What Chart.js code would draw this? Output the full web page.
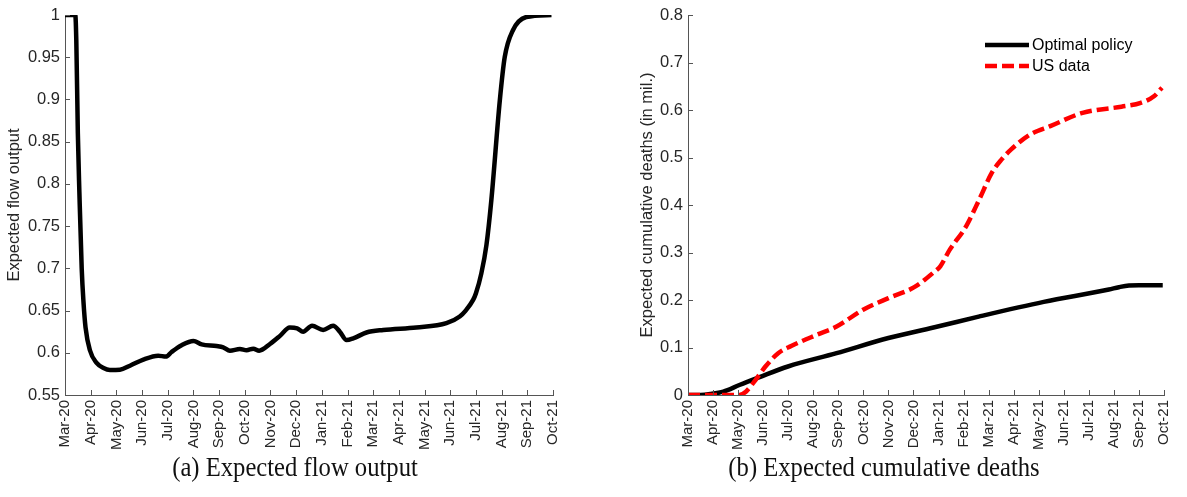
<!DOCTYPE html>
<html lang="en">
<head>
<meta charset="UTF-8">
<title>Expected flow output and cumulative deaths</title>
<script src="https://cdn.jsdelivr.net/npm/chart.js"></script>
<style>
  body { margin: 0; background: #fff; width: 1187px; height: 497px; position: relative; overflow: hidden; }
  #painelA { position: absolute; left: 0; top: 0; }
  #painelB { position: absolute; left: 620px; top: 0; }
  .legenda { position: absolute; top: 451px; width: 400px; font-family: "Liberation Serif", serif; font-size: 28px;
             color: #111; text-align: center; white-space: nowrap; transform: scaleX(0.88); }
</style>
</head>
<body>
  <canvas id="painelA" width="580" height="460"></canvas>
  <canvas id="painelB" width="567" height="460"></canvas>
  <div class="legenda" style="left: 95px;">(a) Expected flow output</div>
  <div class="legenda" style="left: 684px;">(b) Expected cumulative deaths</div>

<script>
// month labels, index 0 = Mar-20
const meses = ['Mar-20', 'Apr-20', 'May-20', 'Jun-20', 'Jul-20', 'Aug-20', 'Sep-20', 'Oct-20', 'Nov-20', 'Dec-20',
               'Jan-21', 'Feb-21', 'Mar-21', 'Apr-21', 'May-21', 'Jun-21', 'Jul-21', 'Aug-21', 'Sep-21', 'Oct-21'];

// (a) expected flow output, x in months since Mar-20
const fluxoMes   = [0, 0.4, 0.44, 0.5, 0.56, 0.65, 0.72, 0.8, 0.97, 1.23, 1.5, 1.75, 2.14, 2.53, 3.05, 3.63, 3.93, 4.15, 4.54, 5.0,
                    5.32, 5.9, 6.16, 6.42, 6.81, 7.07, 7.33, 7.56, 7.98, 8.37, 8.75, 9.04, 9.27, 9.62, 10.05, 10.44, 10.7, 10.96, 11.22, 11.74,
                    12.39, 13.68, 14.85, 15.37, 15.6, 15.89, 16.0, 16.21, 16.41, 16.6, 16.93, 17.12, 17.44, 17.96, 18.94];
const fluxoValor = [1, 1, 0.97, 0.86, 0.79, 0.70, 0.66, 0.63, 0.603, 0.588, 0.582, 0.5797, 0.580, 0.5847, 0.592, 0.5966, 0.5955, 0.601, 0.609, 0.614,
                    0.610, 0.608, 0.6065, 0.6025, 0.6045, 0.603, 0.6049, 0.6025, 0.6104, 0.620, 0.630, 0.629, 0.625, 0.632, 0.627, 0.632, 0.625, 0.615, 0.617, 0.624,
                    0.627, 0.630, 0.635, 0.643, 0.65, 0.6626, 0.6705, 0.694, 0.728, 0.781, 0.899, 0.95, 0.982, 0.9976, 1.0];

// (b) expected cumulative deaths, in millions
const otimoMes    = [0, 0.5, 0.9, 1.41, 2.05, 2.83, 3.99, 5.93, 8.0, 9.8, 11.6, 14.2, 16.8, 17.2, 17.6, 18.0, 18.95];
const otimoMortes = [0, 0, 0.002, 0.007, 0.021, 0.037, 0.06, 0.088, 0.12, 0.142, 0.165, 0.196, 0.222, 0.227, 0.2305, 0.231, 0.231];

const usMes    = [0, 2.05, 2.31, 2.7, 3.09, 3.6, 4.12, 5.15, 5.93, 6.97, 8.0, 9.03, 9.8, 10.07, 10.45, 11.1, 11.62, 12.13,
                  12.52, 12.9, 13.68, 14.46, 15.75, 17.3, 18.07, 18.6, 18.92];
const usMortes = [0, 0, 0.007, 0.032, 0.06, 0.088, 0.103, 0.127, 0.144, 0.179, 0.204, 0.227, 0.258, 0.271, 0.306, 0.355, 0.411, 0.468,
                  0.496, 0.517, 0.549, 0.566, 0.594, 0.607, 0.615, 0.629, 0.647];

const corTexto = '#262626';
const corEixo = '#555555';
Chart.defaults.font.family = '"Liberation Sans", Arial, sans-serif';
Chart.defaults.font.size = 15;
Chart.defaults.color = corTexto;

function pontos(xs, ys) {
    return xs.map((x, i) => ({ x: x, y: ys[i] }));
}

function numero(v) {
    return String(+v.toFixed(2));
}

// ticks pointing into the plot, like the matlab axes
const ticksInternos = {
    id: 'ticksInternos',
    afterDraw(chart) {
        const ctx = chart.ctx;
        const x = chart.scales.x, y = chart.scales.y;
        ctx.save();
        ctx.strokeStyle = corEixo;
        ctx.lineWidth = 1;
        ctx.beginPath();
        x.ticks.forEach(t => {
            const px = Math.round(x.getPixelForValue(t.value)) + 0.5;
            ctx.moveTo(px, y.bottom);
            ctx.lineTo(px, y.bottom - 5);
        });
        y.ticks.forEach(t => {
            const py = Math.round(y.getPixelForValue(t.value)) + 0.5;
            ctx.moveTo(x.left, py);
            ctx.lineTo(x.left + 5, py);
        });
        ctx.stroke();
        ctx.restore();
    }
};

// legend box in the top right corner of panel (b)
const legendaCanto = {
    id: 'legendaCanto',
    afterDraw(chart) {
        const ctx = chart.ctx;
        const area = chart.chartArea;
        const x0 = area.right - 179;
        const itens = chart.data.datasets;
        ctx.save();
        ctx.font = '16px "Liberation Sans", Arial, sans-serif';
        ctx.textBaseline = 'middle';
        itens.forEach((ds, i) => {
            const yy = 45 + i * 21;
            ctx.strokeStyle = ds.borderColor;
            ctx.lineWidth = ds.borderWidth;
            ctx.setLineDash(ds.borderDash || []);
            ctx.beginPath();
            ctx.moveTo(x0, yy);
            ctx.lineTo(x0 + 44, yy);
            ctx.stroke();
            ctx.setLineDash([]);
            ctx.fillStyle = '#000';
            ctx.fillText(ds.label, x0 + 47, yy + 1);
        });
        ctx.restore();
    }
};

function eixoX() {
    return {
        type: 'linear',
        min: 0,
        max: 19,
        grid: { display: false, drawTicks: false },
        border: { display: true, color: corEixo, width: 1 },
        ticks: {
            stepSize: 1,
            autoSkip: false,
            maxRotation: 90,
            minRotation: 90,
            padding: 5,
            callback: v => meses[v]
        },
        afterFit: s => { s.height = 65; }
    };
}

function eixoY(min, max, passo, titulo, largura, recuo) {
    return {
        min: min,
        max: max,
        grid: { display: false, drawTicks: false },
        border: { display: true, color: corEixo, width: 1 },
        ticks: { stepSize: passo, padding: 5, font: { size: 16.5 }, callback: v => numero(v) },
        title: { display: true, text: titulo, font: { size: 16.5 }, padding: { top: recuo, bottom: 0 } },
        afterFit: s => { s.width = largura; }
    };
}

new Chart(document.getElementById('painelA'), {
    type: 'line',
    data: {
        datasets: [{
            label: 'Expected flow output',
            data: pontos(fluxoMes, fluxoValor),
            borderColor: '#000',
            borderWidth: 4.5,
            pointRadius: 0,
            cubicInterpolationMode: 'monotone',
            borderJoinStyle: 'round'
        }]
    },
    options: {
        responsive: false,
        animation: false,
        layout: { padding: { top: 15, right: 27, left: 0, bottom: 0 } },
        plugins: { legend: { display: false }, tooltip: { enabled: false } },
        scales: {
            x: eixoX(),
            y: eixoY(0.55, 1, 0.05, 'Expected flow output', 65, 5)
        }
    },
    plugins: [ticksInternos]
});

new Chart(document.getElementById('painelB'), {
    type: 'line',
    data: {
        datasets: [{
            label: 'Optimal policy',
            data: pontos(otimoMes, otimoMortes),
            borderColor: '#000',
            borderWidth: 4.5,
            pointRadius: 0,
            cubicInterpolationMode: 'monotone',
            order: 1
        }, {
            // drawn over the black line
            label: 'US data',
            data: pontos(usMes, usMortes),
            borderColor: '#ff0000',
            borderWidth: 4.5,
            borderDash: [12, 5],
            pointRadius: 0,
            cubicInterpolationMode: 'monotone',
            order: 0
        }]
    },
    options: {
        responsive: false,
        animation: false,
        layout: { padding: { top: 15, right: 10, left: 0, bottom: 0 } },
        plugins: { legend: { display: false }, tooltip: { enabled: false } },
        scales: {
            x: eixoX(),
            y: eixoY(0, 0.8, 0.1, 'Expected cumulative deaths (in mil.)', 68, 18)
        }
    },
    plugins: [ticksInternos, legendaCanto]
});
</script>
</body>
</html>
